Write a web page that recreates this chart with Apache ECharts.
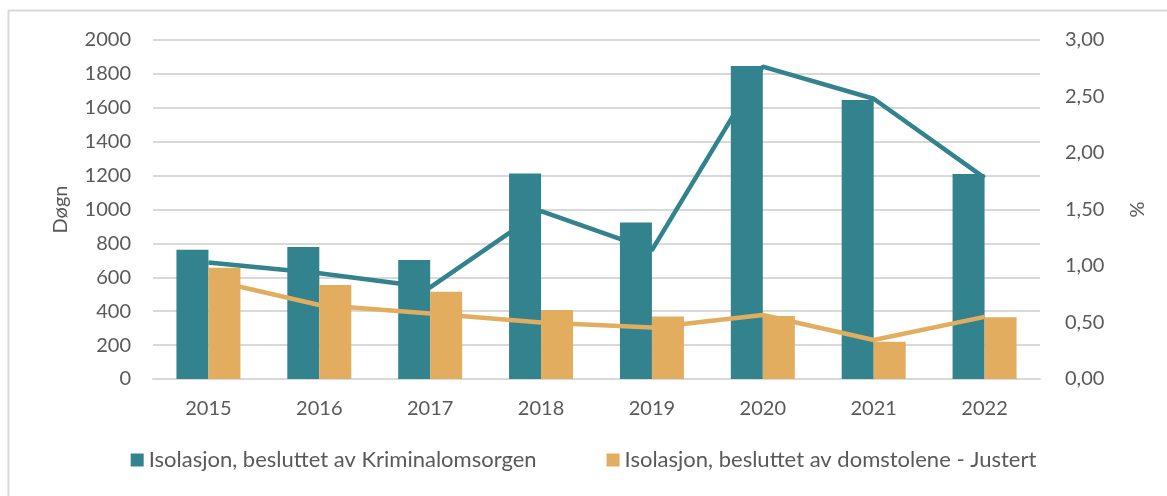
<!DOCTYPE html>
<html><head><meta charset="utf-8">
<script src="https://cdn.jsdelivr.net/npm/echarts@6/dist/echarts.min.js"></script>
<style>html,body{margin:0;padding:0;background:#fff}#c{width:1167px;height:496px}</style>
</head><body><div id="c"></div>
<script>
const years = ['2015','2016','2017','2018','2019','2020','2021','2022'];
const kriminalDays = [763, 779, 702, 1213, 924, 1847, 1646, 1209];
const domstolDays = [657, 555, 515, 407, 368, 372, 220, 364];
const kriminalPct = [1.03, 0.935, 0.81, 1.485, 1.14, 2.765, 2.48, 1.78];
const domstolPct = [0.88, 0.655, 0.58, 0.50, 0.455, 0.566, 0.345, 0.55];
const leftTicks = [0, 2000, 200];
const rightTicks = [0, 3, 0.5];
const seriesNames = ['Isolasjon, besluttet av Kriminalomsorgen', 'Isolasjon, besluttet av domstolene - Justert'];

const teal = '#33838e', orange = '#e2ad5f', txt = '#595959';
const font = 'Lato, "Open Sans", sans-serif';
const fs = 20;
const chart = echarts.init(document.getElementById('c'));
chart.setOption({
  animation: false,
  textStyle: {fontFamily: font},
  graphic: [{type: 'rect', shape: {x: 8.5, y: 10.5, width: 1200, height: 500}, style: {fill: 'none', stroke: '#d9d9d9', lineWidth: 2}, silent: true}],
  grid: {left: 153, right: 127, top: 40, bottom: 117},
  legend: {
    bottom: 20, left: 'center', itemGap: 70, itemWidth: 13, itemHeight: 13, icon: 'rect',
    data: seriesNames,
    textStyle: {color: txt, fontSize: 22, fontFamily: font, padding: [0,0,0,0]}
  },
  xAxis: {
    type: 'category', data: years,
    axisLine: {lineStyle: {color: '#d9d9d9', width: 2}},
    axisTick: {show: false},
    axisLabel: {color: txt, fontSize: fs, margin: 20, fontFamily: font}
  },
  yAxis: [{
    type: 'value', min: leftTicks[0], max: leftTicks[1], interval: leftTicks[2],
    name: 'Døgn', nameLocation: 'middle', nameGap: 82, nameRotate: 90,
    nameTextStyle: {color: txt, fontSize: fs, fontFamily: font},
    axisLabel: {color: txt, fontSize: fs, margin: 22, fontFamily: font, formatter: v => String(v)},
    splitLine: {lineStyle: {color: '#d9d9d9', width: 2}},
    axisLine: {show: false}, axisTick: {show: false}
  }, {
    type: 'value', min: rightTicks[0], max: rightTicks[1], interval: rightTicks[2],
    name: '%', nameLocation: 'middle', nameGap: 86, nameRotate: -90,
    nameTextStyle: {color: txt, fontSize: fs, fontFamily: font},
    axisLabel: {color: txt, fontSize: fs, margin: 25, fontFamily: font,
      formatter: v => v.toFixed(2).replace('.', ',')},
    splitLine: {show: false}, axisLine: {show: false}, axisTick: {show: false}
  }],
  series: [
    {name: seriesNames[0], type: 'bar', data: kriminalDays, barWidth: 32, barGap: '0%', itemStyle: {color: teal}},
    {name: seriesNames[1], type: 'bar', data: domstolDays, barWidth: 32, barGap: '0%', itemStyle: {color: orange}},
    {name: 'kpct', type: 'line', yAxisIndex: 1, data: kriminalPct, symbol: 'none', lineStyle: {color: teal, width: 4.5}, itemStyle: {color: teal}},
    {name: 'dpct', type: 'line', yAxisIndex: 1, data: domstolPct, symbol: 'none', lineStyle: {color: orange, width: 4.5}, itemStyle: {color: orange}}
  ]
});
</script></body></html>
